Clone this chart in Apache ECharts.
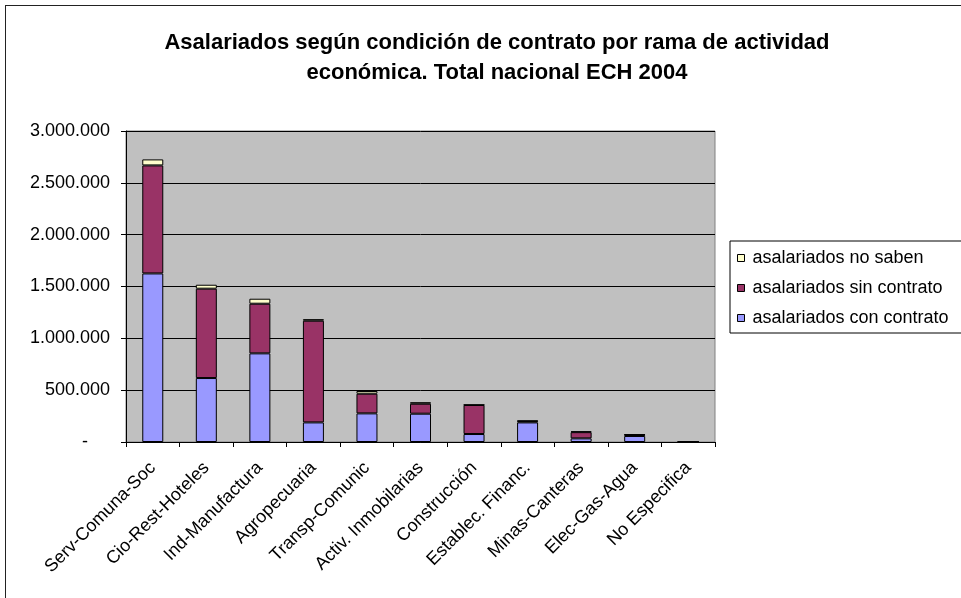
<!DOCTYPE html>
<html>
<head>
<meta charset="utf-8">
<script src="https://cdn.jsdelivr.net/npm/echarts@6/dist/echarts.min.js"></script>
<style>
html, body { margin: 0; padding: 0; background: #fff; }
#chart { position: absolute; left: 0; top: 0; width: 961px; height: 598px; }
#frame { position: absolute; left: 5px; top: 5px; width: 1000px; height: 700px;
         border-top: 1px solid #222; border-left: 1px solid #222; pointer-events: none; }
</style>
</head>
<body>
<div id="chart"></div>
<div id="frame"></div>
<script>
const categories = ['Serv-Comuna-Soc', 'Cio-Rest-Hoteles', 'Ind-Manufactura', 'Agropecuaria',
    'Transp-Comunic', 'Activ. Inmobilarias', 'Construcción', 'Establec. Financ.',
    'Minas-Canteras', 'Elec-Gas-Agua', 'No Especifica'];
const conContrato = [1626000, 617000, 855000, 189000, 276000, 273000, 77000, 189000, 35000, 58000, 1500];
const sinContrato = [1042000, 862000, 479000, 981000, 190000, 96000, 280000, 12000, 60000, 12000, 800];
const noSaben = [58000, 38000, 48000, 15000, 26000, 15000, 3000, 5000, 8000, 3000, 0];
const yTicks = [0, 500000, 1000000, 1500000, 2000000, 2500000, 3000000];

const fmt = v => v === 0 ? '{z|-}' : String(v).replace(/\B(?=(\d{3})+(?!\d))/g, '.');

const chart = echarts.init(document.getElementById('chart'));
const font = 'Arial, "Liberation Sans", sans-serif';
const barStyle = color => ({ color, borderColor: '#000', borderWidth: 1 });

chart.setOption({
    animation: false,
    textStyle: { fontFamily: font },
    title: {
        text: 'Asalariados según condición de contrato por rama de actividad\neconómica. Total nacional ECH 2004',
        left: 492, top: 23, textAlign: 'center',
        textStyle: { fontSize: 22, fontWeight: 'bold', color: '#000', lineHeight: 30, fontFamily: font },
    },
    legend: {
        orient: 'vertical',
        left: 730, top: 241,
        width: 240,
        padding: [7, 20, 5, 7],
        borderColor: '#000', borderWidth: 1,
        backgroundColor: '#fff',
        itemWidth: 7, itemHeight: 7, itemGap: 10,
        icon: 'rect',
        itemStyle: { borderColor: '#000', borderWidth: 1 },
        textStyle: { fontSize: 18, color: '#000', lineHeight: 20, padding: [0, 0, 0, 3], fontFamily: font },
        data: ['asalariados no saben', 'asalariados sin contrato', 'asalariados con contrato'],
    },
    grid: {
        left: 126, top: 131, width: 589, height: 311,
        show: true, backgroundColor: '#C0C0C0', borderColor: '#808080', borderWidth: 1,
    },
    xAxis: {
        type: 'category',
        data: categories,
        axisLine: { lineStyle: { color: '#000' } },
        axisTick: { show: true, alignWithLabel: false, length: 5, lineStyle: { color: '#000' } },
        axisLabel: { rotate: 45, interval: 0, fontSize: 18, color: '#000', margin: 23, fontFamily: font },
    },
    yAxis: {
        type: 'value',
        min: yTicks[0], max: yTicks[yTicks.length - 1], interval: 500000,
        axisLine: { show: true, lineStyle: { color: '#000' } },
        axisTick: { show: true, length: 5, lineStyle: { color: '#000' } },
        splitLine: { lineStyle: { color: '#000', width: 1 } },
        axisLabel: {
            formatter: fmt, fontSize: 18, color: '#000', margin: 16, fontFamily: font,
            rich: { z: { fontSize: 18, padding: [0, 22, 0, 0], fontFamily: font } },
        },
    },
    series: [
        { name: 'asalariados con contrato', type: 'bar', stack: 't', barWidth: 21, data: conContrato, itemStyle: barStyle('#9999FF') },
        { name: 'asalariados sin contrato', type: 'bar', stack: 't', barWidth: 21, data: sinContrato, itemStyle: barStyle('#993366') },
        { name: 'asalariados no saben', type: 'bar', stack: 't', barWidth: 21, data: noSaben, itemStyle: barStyle('#FFFFCC') },
    ],
});
</script>
</body>
</html>
